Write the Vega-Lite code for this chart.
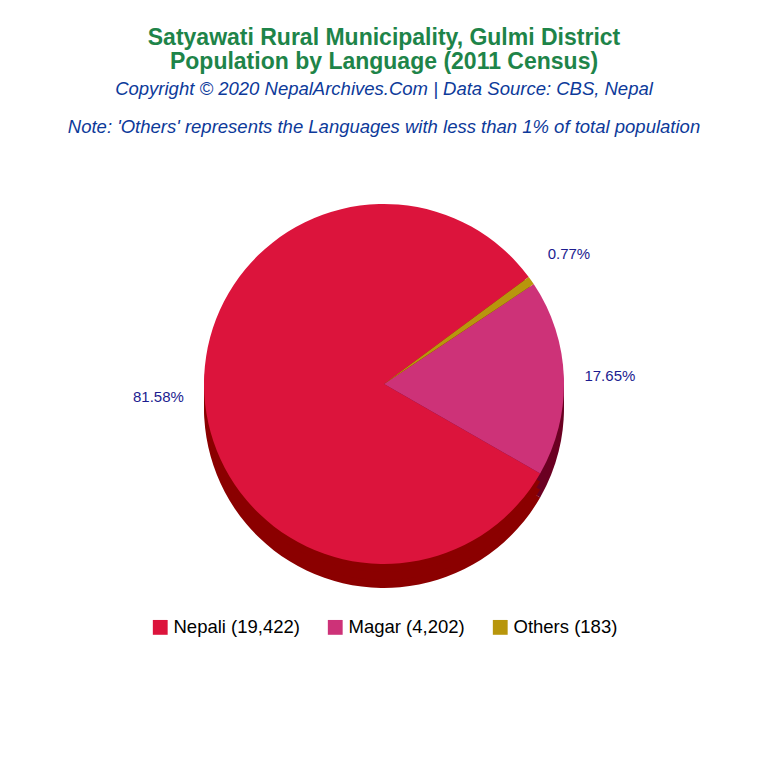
{
  "$schema": "https://vega.github.io/schema/vega-lite/v6.json",
  "width": 768,
  "height": 768,
  "autosize": {"type": "fit", "contains": "padding"},
  "padding": {"top": 26, "bottom": 131, "left": 0, "right": 0},
  "background": "white",
  "title": {
    "text": ["Satyawati Rural Municipality, Gulmi District", "Population by Language (2011 Census)"],
    "subtitle": ["Copyright © 2020 NepalArchives.Com | Data Source: CBS, Nepal", "Note: 'Others' represents the Languages with less than 1% of total population"],
    "anchor": "middle",
    "font": "Liberation Sans",
    "fontSize": 23,
    "fontWeight": "bold",
    "color": "#1E8449",
    "lineHeight": 24,
    "subtitleFont": "Liberation Sans",
    "subtitleFontSize": 18.5,
    "subtitleFontStyle": "italic",
    "subtitleColor": "#0D3A9A",
    "subtitleLineHeight": 38,
    "subtitlePadding": 6,
    "offset": 30
  },
  "data": {
    "values": [
      {"language": "Nepali", "population": 19422, "ord": 3},
      {"language": "Magar", "population": 4202, "ord": 2},
      {"language": "Others", "population": 183, "ord": 1}
    ]
  },
  "transform": [
    {"joinaggregate": [{"op": "sum", "field": "population", "as": "total"}]},
    {"calculate": "format(datum.population / datum.total, '.2%')", "as": "pct"},
    {"calculate": "datum.language + ' (' + format(datum.population, ',') + ')'", "as": "legendLabel"}
  ],
  "encoding": {
    "theta": {"field": "population", "type": "quantitative", "stack": true, "scale": {"range": [0.934, 7.217]}},
    "order": {"field": "ord", "type": "quantitative"}
  },
  "layer": [
    {
      "mark": {"type": "arc", "outerRadius": 180, "yOffset": 24},
      "encoding": {
        "color": {"field": "language", "type": "nominal", "legend": null,
          "scale": {"domain": ["Nepali", "Magar", "Others"], "range": ["#8B0000", "#6B0022", "#5A4A00"]}}
      }
    },
    {
      "mark": {"type": "arc", "outerRadius": 180, "yOffset": 16},
      "encoding": {
        "color": {"field": "language", "type": "nominal", "legend": null,
          "scale": {"domain": ["Nepali", "Magar", "Others"], "range": ["#8B0000", "#6B0022", "#5A4A00"]}}
      }
    },
    {
      "mark": {"type": "arc", "outerRadius": 180, "yOffset": 8},
      "encoding": {
        "color": {"field": "language", "type": "nominal", "legend": null,
          "scale": {"domain": ["Nepali", "Magar", "Others"], "range": ["#8B0000", "#6B0022", "#5A4A00"]}}
      }
    },
    {
      "mark": {"type": "arc", "outerRadius": 180},
      "encoding": {
        "fill": {"field": "legendLabel", "type": "nominal",
          "scale": {"domain": ["Nepali (19,422)", "Magar (4,202)", "Others (183)"], "range": ["#DC143C", "#CD3278", "#B8960C"]},
          "legend": {
            "title": null,
            "orient": "bottom",
            "direction": "horizontal",
            "symbolType": "square",
            "symbolSize": 220,
            "symbolStrokeWidth": 0,
            "labelFont": "Liberation Sans",
            "labelFontSize": 18.5,
            "labelColor": "#000000",
            "columnPadding": 26,
            "offset": 16
          }
        }
      }
    },
    {
      "mark": {"type": "text", "radius": 226, "font": "Liberation Sans", "fontSize": 15, "color": "#1C1C8F"},
      "encoding": {
        "text": {"field": "pct"}
      }
    }
  ],
  "resolve": {"scale": {"color": "independent"}},
  "config": {
    "view": {"stroke": null},
    "legend": {"layout": {"bottom": {"anchor": "middle"}}}
  }
}
